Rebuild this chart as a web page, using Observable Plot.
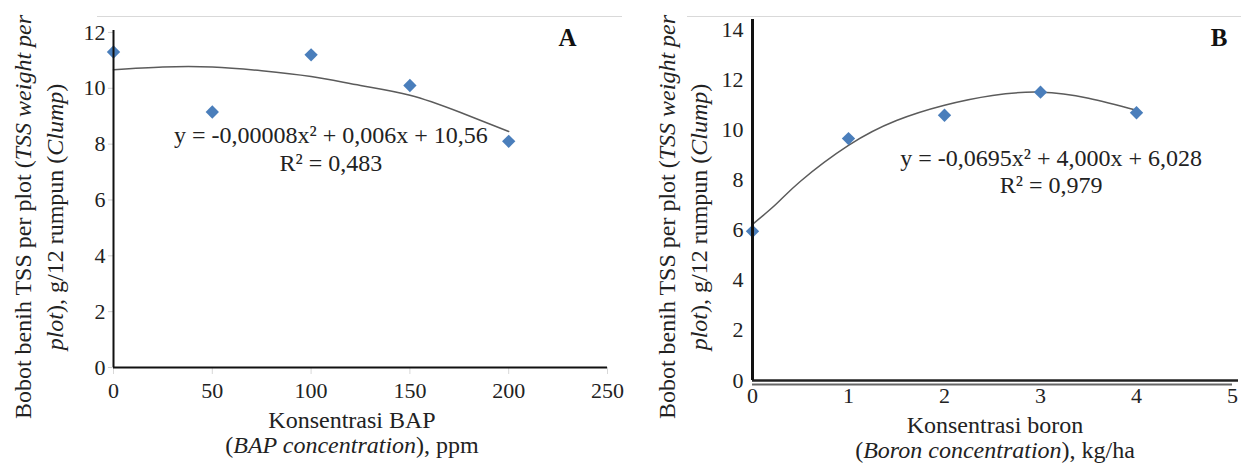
<!DOCTYPE html>
<html><head><meta charset="utf-8">
<script src="https://cdn.jsdelivr.net/npm/d3@7"></script>
<script src="https://cdn.jsdelivr.net/npm/@observablehq/plot@0.6"></script>
<style>
body{margin:0;background:#fff;font-family:'Liberation Serif';}
#wrap{display:flex;width:1241px;height:464px;}
.panel{position:relative;}
.topline{position:absolute;top:16px;height:1px;background:#d9d9d9;}
</style></head><body>
<div id="wrap"><div class="panel" id="pa"></div><div class="panel" id="pb"></div></div>
<script>
// ---- Data: panel A (BAP) ----
const bapX = [0, 50, 100, 150, 200];
const bapY = [11.3, 9.15, 11.2, 10.1, 8.1];
const bapTrendX = [0, 25, 50, 75, 100, 125, 150, 175, 200];
const bapTrendY = [10.66, 10.76, 10.76, 10.63, 10.42, 10.1, 9.75, 9.15, 8.45];
const bapXTicks = [0, 50, 100, 150, 200, 250];
const bapYTicks = [0, 2, 4, 6, 8, 10, 12];
const bapEq = "y = -0,00008x² + 0,006x + 10,56";
const bapR2 = "R² = 0,483";

// ---- Data: panel B (Boron) ----
const boronX = [0, 1, 2, 3, 4];
const boronY = [5.95, 9.65, 10.58, 11.5, 10.68];
const boronTrendX = [0, 0.25, 0.5, 1, 1.5, 2, 2.5, 3, 3.5, 4];
const boronTrendY = [6.23, 7.05, 7.95, 9.38, 10.37, 10.98, 11.37, 11.5, 11.26, 10.78];
const boronXTicks = [0, 1, 2, 3, 4, 5];
const boronYTicks = [0, 2, 4, 6, 8, 10, 12, 14];
const boronEq = "y = -0,0695x² + 4,000x + 6,028";
const boronR2 = "R² = 0,979";

const yTitle1 = [["Bobot benih TSS per plot (", false], ["TSS weight per", true]];
const yTitle2 = [["plot", true], ["), g/12 rumpun (", false], ["Clump", true], [")", false]];
const xTitleA1 = [["Konsentrasi BAP", false]];
const xTitleA2 = [["(", false], ["BAP concentration", true], ["), ppm", false]];
const xTitleB1 = [["Konsentrasi boron", false]];
const xTitleB2 = [["(", false], ["Boron concentration", true], ["), kg/ha", false]];

const serif = "Liberation Serif";
const blue = "#4a7ebb";
const trendColor = "#5b5b5b";

const ptsA = bapX.map((x, i) => ({x, y: bapY[i]}));
const trA = bapTrendX.map((x, i) => ({x, y: bapTrendY[i]}));
const ptsB = boronX.map((x, i) => ({x, y: boronY[i]}));
const trB = boronTrendX.map((x, i) => ({x, y: boronTrendY[i]}));

function addText(svg, x, y, parts, rotate) {
  const t = d3.select(svg).append("text")
    .attr("text-anchor", "middle")
    .attr("font-size", 24)
    .attr("fill", "#222")
    .attr("transform", `translate(${x},${y})` + (rotate ? " rotate(-90)" : ""));
  for (const [s, it] of parts) {
    t.append("tspan").attr("font-style", it ? "italic" : "normal").text(s);
  }
}

const style = {fontFamily: serif, fontSize: "22px", color: "#222", background: "transparent", overflow: "visible"};
const fmt = d => String(d);

const chartA = Plot.plot({
  width: 620, height: 464,
  marginLeft: 113, marginRight: 13, marginTop: 30, marginBottom: 97,
  x: {domain: [0, 250]},
  y: {domain: [0, 12.07]},
  style,
  marks: [
    Plot.axisY({ticks: bapYTicks, tickSize: 5, tickFormat: () => "", stroke: "#d0d0d0", label: null}),
    Plot.axisX({ticks: bapXTicks, tickSize: 7, tickFormat: () => "", stroke: "#d8d8d8", label: null}),
    Plot.axisY({ticks: bapYTicks, tickSize: 0, tickPadding: 8, tickFormat: fmt, fontSize: 22, label: null}),
    Plot.axisX({ticks: bapXTicks, tickSize: 0, tickPadding: 15, tickFormat: fmt, fontSize: 22, label: null}),
    Plot.line(trA, {x: "x", y: "y", curve: "natural", stroke: trendColor, strokeWidth: 1.5}),
    Plot.dot(ptsA, {x: "x", y: "y", symbol: "diamond2", r: 6, fill: blue, stroke: "none"}),
    Plot.ruleX([0], {stroke: "#111", strokeWidth: 2}),
    Plot.ruleY([0], {stroke: "#111", strokeWidth: 2}),
    Plot.text([bapEq], {x: 110, y: 8.3, text: d => d, fontSize: 24, fill: "#222"}),
    Plot.text([bapR2], {x: 110, y: 7.33, text: d => d, fontSize: 24, fill: "#222"}),
    Plot.text(["A"], {x: 229.8, y: 11.81, text: d => d, fontSize: 25, fontWeight: "bold", fill: "#111"})
  ]
});

const chartB = Plot.plot({
  width: 621, height: 464,
  marginLeft: 132, marginRight: 9, marginTop: 19, marginBottom: 84,
  x: {domain: [0, 5]},
  y: {domain: [0, 14.4]},
  style,
  marks: [
    Plot.axisY({ticks: boronYTicks, tickSize: 0, tickPadding: 9, tickFormat: fmt, fontSize: 22, label: null}),
    Plot.axisX({ticks: boronXTicks, tickSize: 0, tickPadding: 7, tickFormat: fmt, fontSize: 22, label: null}),
    Plot.line(trB, {x: "x", y: "y", curve: "natural", stroke: trendColor, strokeWidth: 1.5}),
    Plot.dot(ptsB, {x: "x", y: "y", symbol: "diamond2", r: 6, fill: blue, stroke: "none"}),
    Plot.ruleY([0], {stroke: "#666", strokeWidth: 2, dy: 4}),
    Plot.ruleY([0], {stroke: "#222", strokeWidth: 2.5, insetRight: -6}),
    Plot.ruleX([0], {stroke: "#111", strokeWidth: 3}),
    Plot.text([boronEq], {x: 3.11, y: 8.88, text: d => d, fontSize: 24, fill: "#222"}),
    Plot.text([boronR2], {x: 3.11, y: 7.77, text: d => d, fontSize: 24, fill: "#222"}),
    Plot.text(["B"], {x: 4.86, y: 13.67, text: d => d, fontSize: 25, fontWeight: "bold", fill: "#111"})
  ]
});

addText(chartA, 31, 217, yTitle1, true);
addText(chartA, 63, 217, yTitle2, true);
addText(chartA, 352, 428, xTitleA1, false);
addText(chartA, 352, 453, xTitleA2, false);

addText(chartB, 55, 217, yTitle1, true);
addText(chartB, 87, 217, yTitle2, true);
addText(chartB, 375, 433, xTitleB1, false);
addText(chartB, 375, 458, xTitleB2, false);

const pa = document.getElementById("pa");
const pb = document.getElementById("pb");
pa.style.width = "620px"; pb.style.width = "621px";
pa.appendChild(chartA);
pb.appendChild(chartB);
const la = document.createElement("div"); la.className = "topline"; la.style.left = "97px"; la.style.width = "525px"; pa.appendChild(la);
const lb = document.createElement("div"); lb.className = "topline"; lb.style.left = "67px"; lb.style.width = "554px"; pb.appendChild(lb);
</script></body></html>
